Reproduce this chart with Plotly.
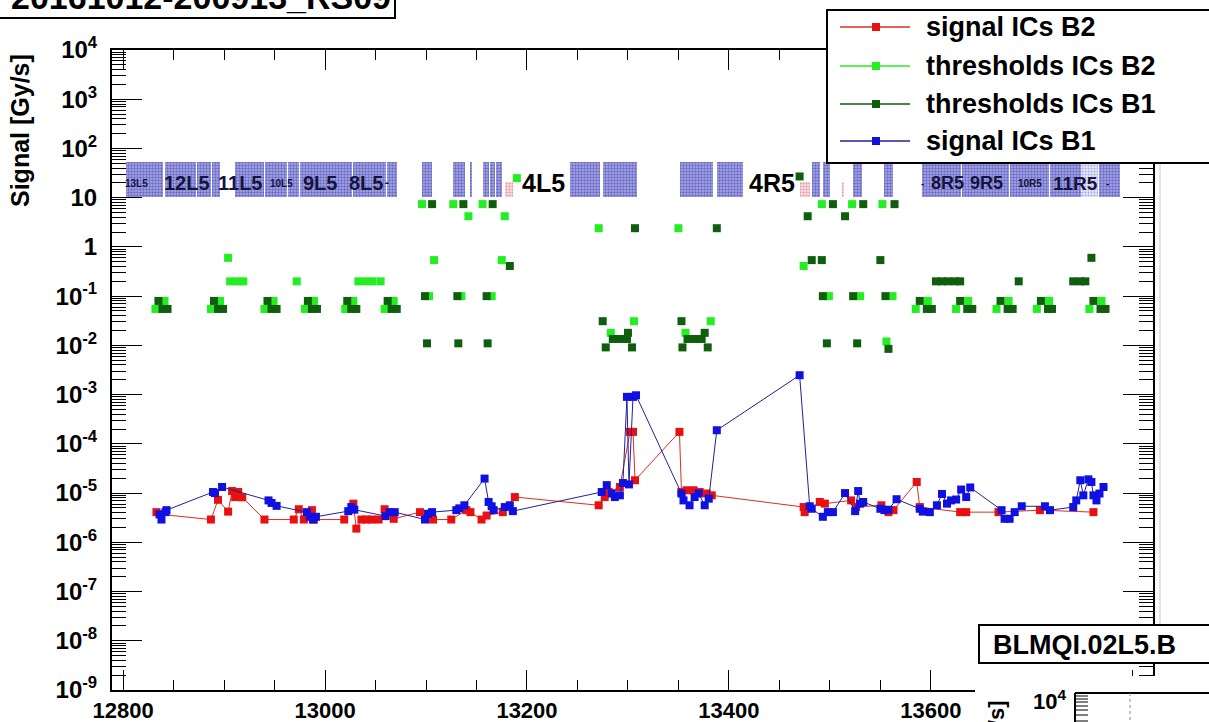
import numpy as np
import plotly.graph_objects as go

# ---------------- data ----------------
b1_pos = [12836, 12838, 12842, 12843, 12889, 12891, 12898, 12944, 12947, 12952,
          12982, 12985, 12988, 12991, 13023, 13026, 13029, 13060, 13064, 13069,
          13099, 13102, 13106, 13130, 13133, 13138, 13158, 13162, 13165, 13167,
          13178, 13183, 13186, 13274, 13279, 13284, 13287, 13292, 13295, 13299,
          13301, 13305, 13308, 13353, 13355, 13361, 13366, 13370, 13376, 13380,
          13388, 13470, 13480, 13482, 13493, 13498, 13503, 13515, 13525, 13528,
          13530, 13533, 13550, 13554, 13558, 13566, 13589, 13592, 13599, 13606,
          13611, 13616, 13620, 13625, 13630, 13635, 13639, 13670, 13673, 13678,
          13683, 13690, 13713, 13718, 13741, 13744, 13748, 13751, 13756, 13759,
          13761, 13764, 13767, 13771]
b1_sig = [3.7e-6, 2.9e-6, 4.1e-6, 4.5e-6, 1.05e-5, 1.0e-5, 1.33e-5, 7.1e-6, 6.3e-6, 5.5e-6,
          4.1e-6, 3.3e-6, 2.9e-6, 3.3e-6, 4.3e-6, 5.2e-6, 4.6e-6, 3.4e-6, 4.1e-6, 4.1e-6,
          2.9e-6, 3.8e-6, 4.1e-6, 4.5e-6, 4.9e-6, 5.65e-6, 1.97e-5, 6.6e-6, 5.4e-6, 4.5e-6,
          5.2e-6, 5.65e-6, 4.3e-6, 1.05e-5, 1.45e-5, 9.8e-6, 8.3e-6, 9.0e-6, 1.6e-5, 9.0e-4,
          1.5e-5, 9.0e-4, 9.7e-4, 9.8e-6, 7.1e-6, 5.65e-6, 8.3e-6, 9.8e-6, 5.65e-6, 7.7e-6,
          1.89e-4, 2.48e-3, 5.4e-6, 4.8e-6, 3.3e-6, 4.1e-6, 4.1e-6, 1.0e-5, 4.3e-6, 1.1e-5,
          6.1e-6, 6.6e-6, 4.8e-6, 4.5e-6, 4.6e-6, 7.5e-6, 4.8e-6, 4.2e-6, 4.1e-6, 5.65e-6,
          9.6e-6, 6.1e-6, 7.1e-6, 7.4e-6, 1.18e-5, 8.3e-6, 1.3e-5, 4.5e-6, 3.0e-6, 3.0e-6,
          4.1e-6, 5.4e-6, 5.4e-6, 4.5e-6, 5.2e-6, 7.1e-6, 1.82e-5, 9.0e-6, 1.9e-5, 1.68e-5,
          9.0e-6, 7.1e-6, 9.8e-6, 1.33e-5]

b2_pos = [12833, 12837, 12887, 12894, 12904, 12908, 12911, 12914, 12918, 12940,
          12969, 12974, 12979, 12987, 12989, 13019, 13028, 13031, 13036, 13041,
          13046, 13053, 13059, 13068, 13094, 13107, 13125, 13140, 13144, 13155,
          13160, 13176, 13188, 13271, 13277, 13281, 13292, 13302, 13305, 13307,
          13351, 13353, 13358, 13365, 13371, 13378, 13383, 13474, 13475, 13490,
          13495, 13521, 13526, 13551, 13558, 13563, 13586, 13589, 13629, 13635,
          13667, 13708, 13761]
b2_sig = [4.1e-6, 3.7e-6, 2.9e-6, 7.3e-6, 4.2e-6, 1.1e-5, 8.3e-6, 1.05e-5, 8.2e-6, 2.9e-6,
          2.9e-6, 4.7e-6, 2.9e-6, 4.5e-6, 2.9e-6, 2.9e-6, 6.1e-6, 1.9e-6, 2.9e-6, 2.9e-6,
          2.9e-6, 2.9e-6, 4.7e-6, 3.0e-6, 4.1e-6, 2.9e-6, 2.9e-6, 4.5e-6, 4.1e-6, 2.9e-6,
          3.5e-6, 4.1e-6, 8.3e-6, 5.65e-6, 8.3e-6, 1.05e-5, 1.33e-5, 1.75e-4, 1.75e-4, 1.82e-5,
          1.75e-4, 1.05e-5, 1.14e-5, 1.14e-5, 1.05e-5, 9.8e-6, 9.0e-6, 5.2e-6, 4.1e-6, 6.6e-6,
          6.1e-6, 7.1e-6, 5.2e-6, 5.65e-6, 4.1e-6, 4.5e-6, 1.68e-5, 5.2e-6, 4.1e-6, 4.1e-6,
          4.1e-6, 4.5e-6, 4.1e-6]

thr_b2_pos = [12832, 12841, 12887, 12896, 12904, 12906, 12913, 12919, 12940, 12949,
              12972, 12980, 12989, 13020, 13028, 13033, 13040, 13047, 13055, 13059,
              13068, 13096, 13103, 13108, 13127, 13135, 13142, 13156, 13165, 13175,
              13178, 13190, 13271, 13283, 13306, 13350, 13357, 13382, 13474, 13492,
              13499, 13522, 13530, 13552, 13556, 13562, 13585, 13597, 13625, 13637,
              13665, 13677, 13705, 13717, 13757, 13769]
thr_b2_val = [0.055, 0.08, 0.055, 0.08, 0.6, 0.2, 0.2, 0.2, 0.055, 0.08,
              0.2, 0.055, 0.08, 0.055, 0.08, 0.2, 0.2, 0.2, 0.2, 0.055,
              0.08, 7.4, 0.1, 0.54, 7.4, 0.1, 4.2, 7.4, 0.1, 0.54,
              4.2, 25, 2.4, 0.018, 0.031, 2.4, 0.018, 0.031, 0.41, 7.4,
              0.1, 7.4, 0.1, 7.4, 0.012, 0.1, 0.055, 0.08, 0.055, 0.08,
              0.055, 0.08, 0.055, 0.08, 0.055, 0.08]

thr_b1_pos = [12835, 12839, 12844, 12890, 12894, 12899, 12943, 12947, 12952, 12983,
              12987, 12992, 13022, 13026, 13031, 13062, 13066, 13071, 13099, 13101,
              13106, 13131, 13132, 13137, 13160, 13161, 13166, 13183, 13275, 13278,
              13285, 13292, 13299, 13300, 13304, 13307, 13353, 13354, 13359, 13366,
              13373, 13376, 13379, 13388, 13470, 13478, 13482, 13492, 13493, 13497,
              13503, 13515, 13523, 13527, 13533, 13550, 13555, 13558, 13564, 13589,
              13596, 13601, 13605, 13611, 13617, 13624, 13629, 13629, 13636, 13641,
              13669, 13676, 13681, 13687, 13709, 13716, 13720, 13741, 13748, 13753,
              13759, 13761, 13768, 13773]
thr_b1_val = [0.08, 0.055, 0.055, 0.08, 0.055, 0.055, 0.08, 0.055, 0.055, 0.08,
              0.055, 0.055, 0.08, 0.055, 0.055, 0.08, 0.055, 0.055, 0.1, 0.011,
              7.4, 0.1, 0.011, 7.4, 0.1, 0.011, 7.4, 0.41, 0.031, 0.0091,
              0.0135, 0.0135, 0.0135, 0.018, 0.0091, 2.4, 0.031, 0.0091, 0.0135, 0.0135,
              0.0135, 0.018, 0.0091, 2.4, 27, 4.2, 0.54, 0.54, 0.1, 0.011,
              7.4, 4.2, 0.1, 0.011, 7.4, 0.54, 0.1, 0.0085, 7.4, 0.08,
              0.055, 0.055, 0.2, 0.2, 0.2, 0.2, 0.2, 0.08, 0.055, 0.055,
              0.08, 0.055, 0.055, 0.2, 0.08, 0.055, 0.055, 0.2, 0.2, 0.2,
              0.6, 0.08, 0.055, 0.055]

# magnet / element boxes (position along the line)
elem_start = [12803, 12841, 12873, 12888, 12911, 12941, 12963, 12975, 13028, 13061,
              13096, 13127, 13144, 13156, 13163, 13169, 13243, 13275, 13352, 13388,
              13482, 13493, 13523, 13554, 13591, 13631, 13678, 13718, 13767]
elem_end = [12840, 12872, 12887, 12896, 12940, 12962, 12974, 13027, 13060, 13071,
            13106, 13139, 13145, 13162, 13168, 13175, 13272, 13309, 13384, 13414,
            13490, 13500, 13532, 13562, 13630, 13677, 13717, 13749, 13787]
elem_light_start = [13749]
elem_light_end = [13766]
pink_start = [13178, 13470, 13512]
pink_end = [13186, 13480, 13514]
elem_bottom, elem_top, pink_top = 10.3, 53.0, 21.0

elem_label_text = ["13L5", "12L5", "11L5", "10L5", "9L5", "8L5", "-", "4L5", "4R5",
                   "-", "8R5", "9R5", "10R5", "11R5", "-"]
elem_label_pos = [12813, 12863, 12916, 12957, 12995, 13041, 13061, 13216, 13443,
                  13592, 13616, 13655, 13698, 13743, 13775]
elem_label_size = [10, 20, 20, 10, 20, 20, 12, 25, 25, 10, 18, 18, 10, 19, 10]
elem_label_level = 19.8

x_tick_vals = [12800, 13000, 13200, 13400, 13600, 13800]
x_tick_text = ["12800", "13000", "13200", "13400", "13600", " "]
y_exp = list(range(-9, 5))
y_tick_text = ["10<sup>%d</sup>" % e if e not in (0, 1) else ("1" if e == 0 else "10") for e in y_exp]

legend_names = ["signal ICs B2", "thresholds ICs B2", "thresholds ICs B1", "signal ICs B1"]
legend_colors = ["#e81010", "#22ee22", "#0e5e0e", "#1010e0"]
title_text = "20161012-200913_RS09"
pad2_title = "BLMQI.02L5.B"

# ---------------- figure ----------------
W, H = 1209, 722
L, R, T, B = 112, 1153, 50, 690
def px(xp):
    return (xp - L) / (R - L)
def py(yp):
    return (B - yp) / (B - T)

FONT = "Liberation Sans"
RED, LGREEN, DGREEN, BLUE = legend_colors

fig = go.Figure()

cen = [(s + e) / 2 for s, e in zip(elem_start, elem_end)]
wid = [e - s for s, e in zip(elem_start, elem_end)]
fig.add_trace(go.Bar(x=cen, y=[elem_top - elem_bottom] * len(cen), base=elem_bottom, width=wid,
                     marker=dict(color="#8c8cd8", line=dict(width=0),
                                 pattern=dict(shape=".", fgcolor="#2c2ca4", bgcolor="#aaaae8",
                                              size=3, solidity=0.5)),
                     showlegend=False, hoverinfo="skip"))
lc = [(s + e) / 2 for s, e in zip(elem_light_start, elem_light_end)]
lw = [e - s for s, e in zip(elem_light_start, elem_light_end)]
fig.add_trace(go.Bar(x=lc, y=[elem_top - elem_bottom] * len(lc), base=elem_bottom, width=lw,
                     marker=dict(color="#d0d0f4", line=dict(width=0),
                                 pattern=dict(shape=".", fgcolor="#7070c8", bgcolor="#e4e4fa",
                                              size=3, solidity=0.35)),
                     showlegend=False, hoverinfo="skip"))
pc = [(s + e) / 2 for s, e in zip(pink_start, pink_end)]
pw = [e - s for s, e in zip(pink_start, pink_end)]
fig.add_trace(go.Bar(x=pc, y=[pink_top - elem_bottom] * len(pc), base=elem_bottom, width=pw,
                     marker=dict(color="#f0c0c8", line=dict(width=0),
                                 pattern=dict(shape=".", fgcolor="#d05060", bgcolor="#f8e0e4",
                                              size=3, solidity=0.4)),
                     showlegend=False, hoverinfo="skip"))

fig.add_trace(go.Scatter(x=b2_pos, y=b2_sig, mode="lines+markers", name=legend_names[0],
                         line=dict(color="#d83020", width=1),
                         marker=dict(symbol="square", size=8, color=RED), showlegend=False))
fig.add_trace(go.Scatter(x=thr_b2_pos, y=thr_b2_val, mode="markers", name=legend_names[1],
                         marker=dict(symbol="square", size=8, color=LGREEN), showlegend=False))
fig.add_trace(go.Scatter(x=thr_b1_pos, y=thr_b1_val, mode="markers", name=legend_names[2],
                         marker=dict(symbol="square", size=8, color=DGREEN), showlegend=False))
fig.add_trace(go.Scatter(x=b1_pos, y=b1_sig, mode="lines+markers", name=legend_names[3],
                         line=dict(color="#20209a", width=1),
                         marker=dict(symbol="square", size=8, color=BLUE), showlegend=False))

shapes = []
annots = []

# element labels
for t, xv, s in zip(elem_label_text, elem_label_pos, elem_label_size):
    col = "black" if t in ("4L5", "4R5") else "#14143c"
    annots.append(dict(x=xv, y=np.log10(elem_label_level), xref="x", yref="y", text=t,
                       showarrow=False, font=dict(family=FONT, size=s, color=col, weight="bold"),
                       xanchor="center", yanchor="middle"))

# gray pad border line on the right
shapes.append(dict(type="line", xref="paper", yref="paper", x0=px(1160), x1=px(1160),
                   y0=py(625), y1=py(163), line=dict(color="#c8c8c8", width=1), layer="above"))

# title box (top-left)
shapes.append(dict(type="rect", xref="paper", yref="paper", x0=px(-5), x1=px(395),
                   y0=py(18), y1=py(-30), fillcolor="white", line=dict(color="black", width=2),
                   layer="above"))
annots.append(dict(x=px(201), y=py(-3), xref="paper", yref="paper", text=title_text,
                   showarrow=False, font=dict(family=FONT, size=34, color="black", weight="bold"),
                   xanchor="center", yanchor="middle"))

# legend box
shapes.append(dict(type="rect", xref="paper", yref="paper", x0=px(827), x1=px(1225),
                   y0=py(163), y1=py(10), fillcolor="white", line=dict(color="black", width=2),
                   layer="above"))
leg_y = [27, 66, 104, 141]
line_cols = ["#d83020", LGREEN, DGREEN, "#20209a"]
for name, col, lcol, yy in zip(legend_names, legend_colors, line_cols, leg_y):
    shapes.append(dict(type="line", xref="paper", yref="paper", x0=px(840), x1=px(910),
                       y0=py(yy), y1=py(yy), line=dict(color=lcol, width=1.5), layer="above"))
    shapes.append(dict(type="rect", xref="paper", yref="paper", x0=px(872), x1=px(880),
                       y0=py(yy + 4), y1=py(yy - 4), fillcolor=col, line=dict(width=0),
                       layer="above"))
    annots.append(dict(x=px(924), y=py(yy), xref="paper", yref="paper", text=name,
                       showarrow=False, font=dict(family=FONT, size=27, color="black", weight="bold"),
                       xanchor="left", yanchor="middle"))

# y axis title
annots.append(dict(x=px(20), y=py(131), xref="paper", yref="paper", text="Signal [Gy/s]",
                   textangle=-90, showarrow=False,
                   font=dict(family=FONT, size=25, color="black", weight="bold"),
                   xanchor="center", yanchor="middle"))

# second pad overlapping the lower right corner
shapes.append(dict(type="rect", xref="paper", yref="paper", x0=px(975), x1=px(1230),
                   y0=py(740), y1=py(676), fillcolor="white", line=dict(width=0), layer="above"))
shapes.append(dict(type="rect", xref="paper", yref="paper", x0=px(979), x1=px(1225),
                   y0=py(663), y1=py(625), fillcolor="white", line=dict(color="black", width=2),
                   layer="above"))
annots.append(dict(x=px(991), y=py(645), xref="paper", yref="paper", text=pad2_title,
                   showarrow=False, font=dict(family=FONT, size=27, color="black", weight="bold"),
                   xanchor="left", yanchor="middle"))
shapes.append(dict(type="line", xref="paper", yref="paper", x0=px(1075), x1=px(1230),
                   y0=py(693), y1=py(693), line=dict(color="black", width=2), layer="above"))
shapes.append(dict(type="line", xref="paper", yref="paper", x0=px(1075), x1=px(1075),
                   y0=py(693), y1=py(730), line=dict(color="black", width=2), layer="above"))
for tyy in [696, 699, 702, 706, 710, 715, 721]:
    shapes.append(dict(type="line", xref="paper", yref="paper", x0=px(1075), x1=px(1088),
                       y0=py(tyy), y1=py(tyy), line=dict(color="black", width=1), layer="above"))
shapes.append(dict(type="line", xref="paper", yref="paper", x0=px(1130), x1=px(1130),
                   y0=py(693), y1=py(730), line=dict(color="#888888", width=1, dash="dot"),
                   layer="above"))
annots.append(dict(x=px(1068), y=py(700), xref="paper", yref="paper", text="10<sup>4</sup>",
                   showarrow=False, font=dict(family=FONT, size=22, color="black", weight="bold"),
                   xanchor="right", yanchor="middle"))
annots.append(dict(x=px(996), y=py(768), xref="paper", yref="paper", text="Signal [Gy/s]",
                   textangle=-90, showarrow=False,
                   font=dict(family=FONT, size=22, color="black", weight="bold"),
                   xanchor="center", yanchor="middle"))

x_minor = [v for v in range(12800, 13820, 50) if v % 200 != 0]
y_minor = [k * 10.0 ** e for e in range(-9, 4) for k in range(2, 10)]

fig.update_layout(
    width=W, height=H,
    margin=dict(l=L, r=W - R, t=T, b=H - B, autoexpand=False),
    paper_bgcolor="white", plot_bgcolor="white",
    barmode="overlay", bargap=0,
    shapes=shapes, annotations=annots,
    xaxis=dict(range=[12789, 13820], tickmode="array", tickvals=x_tick_vals, ticktext=x_tick_text,
               ticks="inside", ticklen=20, tickwidth=1, tickcolor="black",
               showline=True, linecolor="black", linewidth=2, mirror="allticks",
               showgrid=False, zeroline=False, ticklabelstandoff=0,
               minor=dict(tickvals=x_minor, ticks="inside", ticklen=10, tickcolor="black",
                          tickwidth=1, showgrid=False),
               tickfont=dict(family=FONT, size=22, color="black", weight="bold")),
    yaxis=dict(type="log", range=[-9, 4], tickmode="array",
               tickvals=[10.0 ** e for e in y_exp], ticktext=y_tick_text,
               ticks="inside", ticklen=30, tickwidth=1, tickcolor="black",
               showline=True, linecolor="black", linewidth=2, mirror="allticks",
               showgrid=False, zeroline=False, ticklabelstandoff=8,
               minor=dict(tickvals=y_minor, ticks="inside", ticklen=14, tickcolor="black",
                          tickwidth=1, showgrid=False),
               tickfont=dict(family=FONT, size=24, color="black", weight="bold")),
)

fig.write_html("out.html")
